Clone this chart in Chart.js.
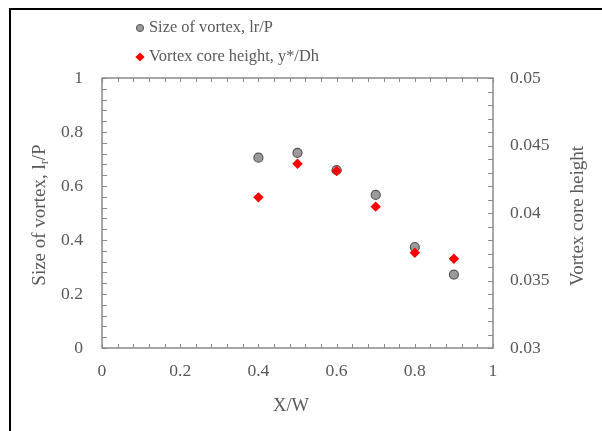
<!DOCTYPE html>
<html>
<head>
<meta charset="utf-8">
<script src="https://cdn.jsdelivr.net/npm/chart.js@4/dist/chart.umd.min.js"></script>
<style>
html,body{margin:0;padding:0;background:#fff;}
#wrap{width:602px;height:431px;position:relative;}
</style>
</head>
<body>
<div id="wrap"><canvas id="c" width="602" height="431"></canvas></div>
<script>
// ---- data ----
const xPositions = [0.4, 0.5, 0.6, 0.7, 0.8, 0.9];
const vortexSize = [0.705, 0.723, 0.659, 0.567, 0.374, 0.272];
const coreHeight = [0.04116, 0.04365, 0.04311, 0.04047, 0.03706, 0.03661];
const xTicks = [0, 0.2, 0.4, 0.6, 0.8, 1];
const yLeftTicks = [0, 0.2, 0.4, 0.6, 0.8, 1];
const yRightTicks = [0.03, 0.035, 0.04, 0.045, 0.05];
const seriesNames = ['Size of vortex, lr/P', 'Vortex core height, y*/Dh'];
const xTitle = 'X/W';
const rightTitle = 'Vortex core height';

const FONT = "'Liberation Serif','Times New Roman',serif";
const TXT = '#595959';
const AXIS = '#8a8a8a';
const FS = 16.4;   // legend
const TFS = 17.6;  // tick labels
const AFS = 19;    // axis titles

function fmt(v){ return String(+v.toFixed(4)); }

const decor = {
  id: 'decor',
  afterDraw(chart){
    const ctx = chart.ctx;
    const xs = chart.scales.x, yl = chart.scales.y, yr = chart.scales.y2;
    const L = xs.left, R = xs.right, T = yl.top, B = yl.bottom;
    ctx.save();
    // minor ticks inward
    ctx.strokeStyle = AXIS; ctx.lineWidth = 1;
    ctx.beginPath();
    for (let i = 0; i <= 25; i++){
      const px = Math.round(xs.getPixelForValue(i * 0.04)) + 0.5;
      ctx.moveTo(px, B); ctx.lineTo(px, B - 4);
      ctx.moveTo(px, T); ctx.lineTo(px, T + 4);
    }
    for (let i = 0; i <= 25; i++){
      const py = Math.round(yl.getPixelForValue(i * 0.04)) + 0.5;
      ctx.moveTo(L, py); ctx.lineTo(L + 5, py);
    }
    for (let i = 0; i <= 20; i++){
      const py = Math.round(yr.getPixelForValue(0.03 + i * 0.001)) + 0.5;
      ctx.moveTo(R, py); ctx.lineTo(R - 5, py);
    }
    ctx.stroke();
    // plot frame
    ctx.lineWidth = 1.5;
    ctx.strokeRect(L, T, R - L, B - T);
    ctx.restore();

    const f1 = AFS + 'px ' + FONT, f2 = '12.5px ' + FONT;
    // left axis title with subscript
    ctx.save();
    ctx.fillStyle = TXT;
    ctx.translate(40, 215);
    ctx.rotate(-Math.PI / 2);
    ctx.textBaseline = 'middle';
    ctx.font = f1;
    const a = 'Size of vortex, l', c = '/P';
    const wa = ctx.measureText(a).width, wc = ctx.measureText(c).width;
    ctx.font = f2;
    const wb = ctx.measureText('r').width;
    let x0 = -(wa + wb + wc) / 2;
    ctx.font = f1; ctx.textAlign = 'left';
    ctx.fillText(a, x0, 0);
    ctx.font = f2; ctx.fillText('r', x0 + wa, 5);
    ctx.font = f1; ctx.fillText(c, x0 + wa + wb, 0);
    ctx.restore();
    // right axis title (reads bottom to top)
    ctx.save();
    ctx.fillStyle = TXT; ctx.font = f1;
    ctx.translate(578, 216);
    ctx.rotate(-Math.PI / 2);
    ctx.textAlign = 'center'; ctx.textBaseline = 'middle';
    ctx.fillText(rightTitle, 0, 0);
    ctx.restore();
    // x title
    ctx.save();
    ctx.fillStyle = TXT; ctx.font = (AFS - 0.5) + 'px ' + FONT;
    ctx.textAlign = 'center'; ctx.textBaseline = 'middle';
    ctx.fillText(xTitle, 291, 406);
    ctx.restore();
    // legend
    ctx.save();
    const ds = chart.data.datasets;
    const ly = [28, 57];
    const lr = [3.6, 4.6];
    ctx.font = FS + 'px ' + FONT; ctx.fillStyle = TXT; ctx.textBaseline = 'middle'; ctx.textAlign = 'left';
    ds.forEach((d, i) => {
      ctx.save();
      ctx.fillStyle = d.backgroundColor; ctx.strokeStyle = d.borderColor; ctx.lineWidth = 1;
      Chart.helpers.drawPoint(ctx, {pointStyle: d.pointStyle, radius: lr[i], rotation: 0, borderWidth: d.borderWidth}, 140, ly[i]);
      ctx.restore();
      ctx.fillText(d.label, 149, ly[i]);
    });
    // outer border (cropped frame: top and left)
    ctx.fillStyle = '#000';
    ctx.fillRect(9, 8, 593, 2);
    ctx.fillRect(9, 8, 2, 423);
    ctx.restore();
  }
};

new Chart(document.getElementById('c'), {
  type: 'scatter',
  data: {
    datasets: [
      {
        label: seriesNames[0],
        data: xPositions.map((x, i) => ({x, y: vortexSize[i]})),
        yAxisID: 'y', order: 1,
        pointStyle: 'circle', pointRadius: 4.5,
        backgroundColor: '#9b9b9b', borderColor: '#555555', borderWidth: 1.2
      },
      {
        label: seriesNames[1],
        data: xPositions.map((x, i) => ({x, y: coreHeight[i]})),
        yAxisID: 'y2', order: 0,
        pointStyle: 'rectRot', pointRadius: 5.2,
        backgroundColor: '#ff0000', borderColor: '#ff0000', borderWidth: 0
      }
    ]
  },
  options: {
    responsive: false,
    animation: false,
    events: [],
    layout: {padding: {left: 0, right: 0, top: 78, bottom: 0}},
    plugins: {legend: {display: false}, tooltip: {enabled: false}},
    scales: {
      x: {
        type: 'linear', position: 'bottom', min: 0, max: 1,
        afterBuildTicks: s => { s.ticks = xTicks.map(v => ({value: v})); },
        afterFit: s => { s.height = 83; },
        border: {display: false},
        grid: {display: false, drawTicks: false},
        ticks: {padding: 13, color: TXT, font: {family: FONT, size: TFS}, callback: v => fmt(v), maxRotation: 0}
      },
      y: {
        type: 'linear', position: 'left', min: 0, max: 1,
        afterBuildTicks: s => { s.ticks = yLeftTicks.map(v => ({value: v})); },
        afterFit: s => { s.width = 102; },
        border: {display: false},
        grid: {display: false, drawTicks: false},
        ticks: {padding: 19, color: TXT, font: {family: FONT, size: TFS}, callback: v => fmt(v)}
      },
      y2: {
        type: 'linear', position: 'right', min: 0.03, max: 0.05,
        afterBuildTicks: s => { s.ticks = yRightTicks.map(v => ({value: v})); },
        afterFit: s => { s.width = 109; },
        border: {display: false},
        grid: {display: false, drawTicks: false},
        ticks: {padding: 17, color: TXT, font: {family: FONT, size: TFS}, callback: v => fmt(v)}
      }
    }
  },
  plugins: [decor]
});
</script>
</body>
</html>
